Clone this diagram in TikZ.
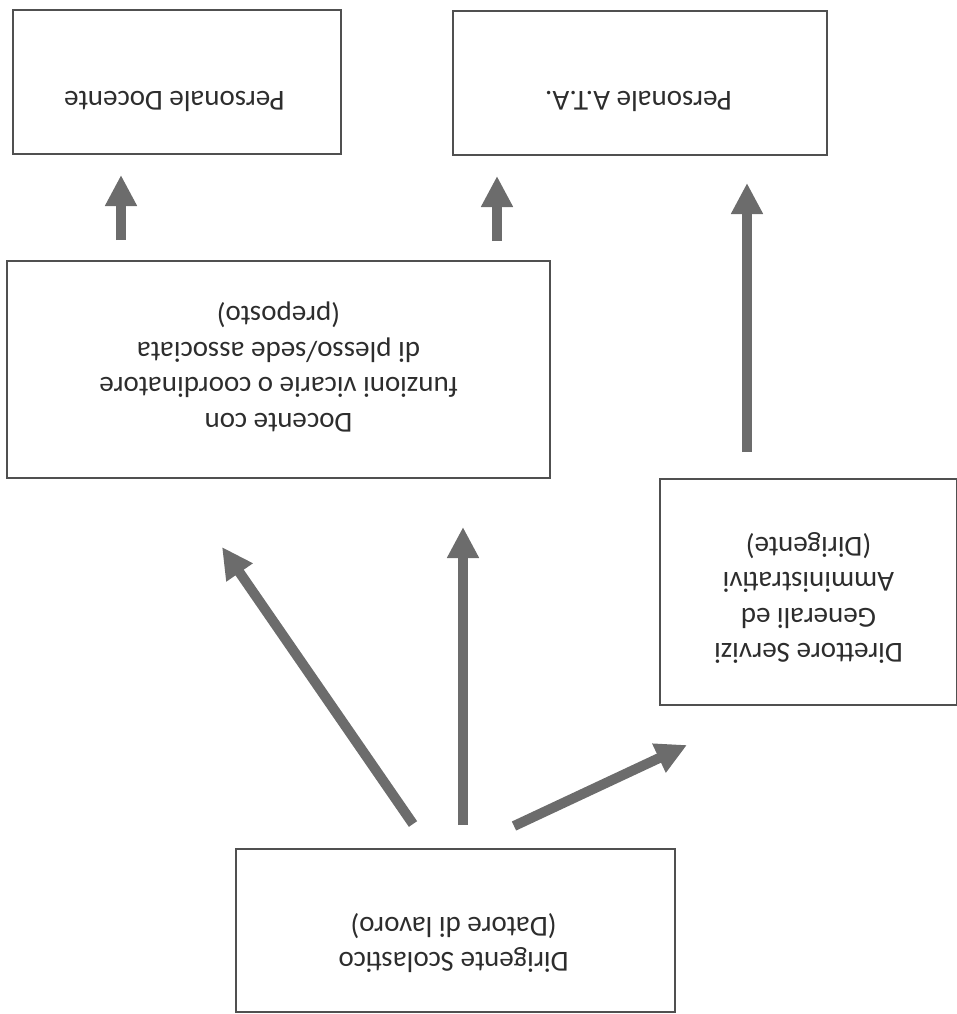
\documentclass[tikz,border=0pt]{standalone}
\usepackage{fontspec}
\setmainfont{Carlito}
\usetikzlibrary{arrows.meta}
\definecolor{arrgray}{RGB}{108,108,108}
\definecolor{boxline}{RGB}{80,80,80}
\definecolor{txt}{RGB}{45,45,45}
\begin{document}
\begin{tikzpicture}[x=1pt,y=-1pt,
  box/.style={draw=boxline, line width=1.1pt, rectangle, inner sep=0pt},
  lbl/.style={rotate=180, align=center, text=txt, inner sep=0pt,
    font=\fontsize{29pt}{35.5pt}\selectfont},
  arr/.style={draw=arrgray, line width=10pt,
    -{Triangle[length=31pt, width=30pt, fill=arrgray]}}]
\useasboundingbox (0,0) rectangle (956,1014);
% boxes
\node[box, minimum width=328pt, minimum height=144pt] (doc) at (177,82) {};
\node[box, minimum width=374pt, minimum height=144pt] (ata) at (640,83) {};
\node[box, minimum width=543pt, minimum height=217pt] (vic) at (278.5,369.5) {};
\node[box, minimum width=297pt, minimum height=226pt] (dsga) at (808.5,592) {};
\node[box, minimum width=439pt, minimum height=163pt] (ds) at (455.5,930.5) {};
% texts
\node[lbl] (tdoc) at (174.5,101) {Personale Docente};
\node[lbl] (tata) at (638.5,101) {Personale A.T.A.};
\node[lbl] (tvic) at (278.5,367) {Docente con\\funzioni vicarie o coordinatore\\di plesso/sede associata\\(preposto)};
\node[lbl] (tdsga) at (808.5,598) {Direttore Servizi\\Generali ed\\Amministrativi\\(Dirigente)};
\node[lbl] (tds) at (453.5,943) {Dirigente Scolastico\\(Datore di lavoro)};
% arrow end points
\coordinate (a1s) at (121,240); \coordinate (a1e) at (121,175);
\coordinate (a2s) at (497,241); \coordinate (a2e) at (497,176);
\coordinate (a3s) at (747,452); \coordinate (a3e) at (747,183);
\coordinate (a4s) at (413,824); \coordinate (a4e) at (222,547);
\coordinate (a5s) at (463,825); \coordinate (a5e) at (463,527);
\coordinate (a6s) at (514,826); \coordinate (a6e) at (687,745);
% arrows
\draw[arr] (a1s) -- (a1e);
\draw[arr] (a2s) -- (a2e);
\draw[arr] (a3s) -- (a3e);
\draw[arr] (a4s) -- (a4e);
\draw[arr] (a5s) -- (a5e);
\draw[arr] (a6s) -- (a6e);
\end{tikzpicture}
\end{document}
